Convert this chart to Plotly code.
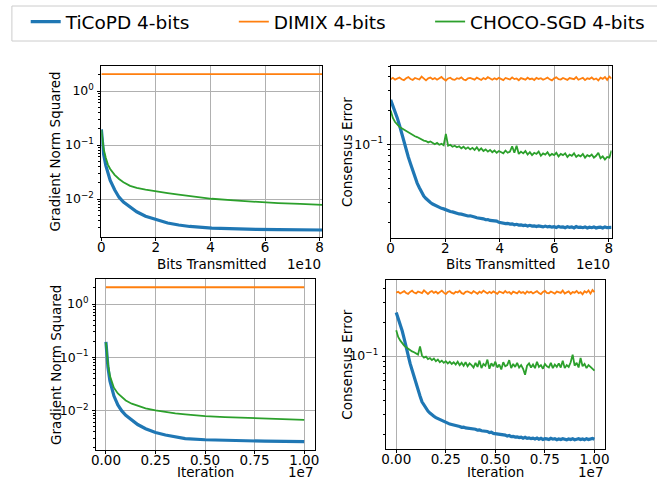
import plotly.graph_objects as go

# ---------------- data ----------------
SERIES = ["TiCoPD 4-bits", "DIMIX 4-bits", "CHOCO-SGD 4-bits"]
COLORS = ["#1f77b4", "#ff7f0e", "#2ca02c"]
BITS_PER_ITER = 8100

# gradient-norm runs (coarse logging grid, iterations)
iter_coarse = [0, 5e4, 1e5, 2e5, 3e5, 4e5, 6e5, 8e5, 1e6, 1.3e6, 1.6e6, 2e6, 2.5e6, 3e6,
               3.5e6, 4e6, 5e6, 6e6, 7e6, 8e6, 9e6, 1e7]

grad_ticopd_bits = [0.195, 0.10, 0.068, 0.042, 0.029, 0.022, 0.0148, 0.0108, 0.0088, 0.0070,
                    0.0058, 0.0048, 0.0041, 0.0036, 0.0033, 0.0031, 0.0029, 0.00278, 0.00273,
                    0.0027, 0.00268, 0.00267]
grad_dimix_bits = [2.06, 2.05, 2.07, 2.06, 2.05, 2.06, 2.07, 2.05, 2.06, 2.06, 2.05, 2.07,
                   2.06, 2.05, 2.06, 2.07, 2.06, 2.05, 2.06, 2.06, 2.05, 2.06]
grad_choco_bits = [0.19, 0.12, 0.085, 0.058, 0.043, 0.036, 0.028, 0.0235, 0.0205, 0.0175,
                   0.0161, 0.0149, 0.0137, 0.0129, 0.0121, 0.0114, 0.0101, 0.0094, 0.0088,
                   0.0084, 0.0081, 0.0078]

grad_ticopd_iter = [0.195, 0.10, 0.066, 0.036, 0.025, 0.019, 0.0128, 0.0099, 0.0082, 0.0066,
                    0.0055, 0.0046, 0.0039, 0.0035, 0.0032, 0.0030, 0.00285, 0.00277, 0.00272,
                    0.00268, 0.00265, 0.00262]
grad_dimix_iter = [2.06, 2.06, 2.05, 2.07, 2.06, 2.05, 2.06, 2.06, 2.07, 2.05, 2.06, 2.06,
                   2.05, 2.07, 2.06, 2.06, 2.05, 2.06, 2.07, 2.06, 2.05, 2.06]
grad_choco_iter = [0.19, 0.11, 0.075, 0.045, 0.033, 0.027, 0.021, 0.0178, 0.0155, 0.0135,
                   0.0123, 0.0111, 0.0101, 0.0094, 0.0089, 0.0085, 0.0079, 0.0076, 0.0074,
                   0.0073, 0.0071, 0.0067]

# consensus-error runs (fine logging grid, iterations)
iter_fine = list(range(0, 10_000_001, 100_000))

cons_ticopd_bits = [
    0.250, 0.222, 0.196, 0.172, 0.148, 0.124, 0.105, 0.089, 0.077, 0.067,
    0.058, 0.051, 0.045, 0.041, 0.037, 0.0345, 0.0328, 0.0312, 0.0302, 0.0293,
    0.0286, 0.0279, 0.0275, 0.0268, 0.0265, 0.0259, 0.0257, 0.0251, 0.0249, 0.0245,
    0.0243, 0.0239, 0.0238, 0.0234, 0.0233, 0.0229, 0.0230, 0.0225, 0.0224, 0.0221,
    0.0220, 0.0217, 0.0216, 0.0212, 0.0213, 0.0209, 0.0208, 0.0204, 0.0206, 0.0201,
    0.0199, 0.0200, 0.0196, 0.0197, 0.0194, 0.0195, 0.0191, 0.0193, 0.0190, 0.0191,
    0.0188, 0.0190, 0.0186, 0.0189, 0.0186, 0.0187, 0.0184, 0.0187, 0.0185, 0.0183,
    0.0186, 0.0183, 0.0185, 0.0182, 0.0184, 0.0181, 0.0185, 0.0182, 0.0183, 0.0180,
    0.0184, 0.0181, 0.0183, 0.0179, 0.0184, 0.0181, 0.0182, 0.0180, 0.0183, 0.0179,
    0.0182, 0.0180, 0.0183, 0.0179, 0.0181, 0.0182, 0.0179, 0.0183, 0.0180, 0.0182, 0.0181]
cons_dimix_bits = [
    0.380, 0.392, 0.378, 0.386, 0.395, 0.381, 0.374, 0.389, 0.398, 0.383,
    0.376, 0.391, 0.387, 0.379, 0.402, 0.384, 0.372, 0.388, 0.395, 0.381,
    0.390, 0.377, 0.385, 0.399, 0.382, 0.371, 0.387, 0.393, 0.380, 0.376,
    0.389, 0.384, 0.396, 0.379, 0.373, 0.388, 0.392, 0.383, 0.378, 0.394,
    0.386, 0.375, 0.390, 0.381, 0.397, 0.384, 0.377, 0.389, 0.380, 0.392,
    0.385, 0.374, 0.391, 0.383, 0.379, 0.396, 0.382, 0.387, 0.373, 0.390,
    0.384, 0.378, 0.393, 0.381, 0.386, 0.375, 0.392, 0.383, 0.389, 0.377,
    0.385, 0.394, 0.380, 0.372, 0.388, 0.396, 0.382, 0.379, 0.391, 0.384,
    0.376, 0.390, 0.386, 0.381, 0.398, 0.377, 0.385, 0.392, 0.374, 0.388,
    0.383, 0.395, 0.379, 0.387, 0.371, 0.393, 0.384, 0.399, 0.376, 0.402, 0.386]
cons_choco_bits = [
    0.200, 0.172, 0.158, 0.150, 0.143, 0.139, 0.135, 0.131, 0.127, 0.125,
    0.121, 0.118, 0.116, 0.113, 0.110, 0.108, 0.107, 0.104, 0.106, 0.102,
    0.100, 0.103, 0.099, 0.101, 0.098, 0.124, 0.097, 0.099, 0.095, 0.097,
    0.094, 0.096, 0.092, 0.095, 0.091, 0.094, 0.090, 0.093, 0.089, 0.094,
    0.088, 0.092, 0.087, 0.090, 0.086, 0.089, 0.085, 0.088, 0.084, 0.087,
    0.085, 0.083, 0.088, 0.084, 0.086, 0.096, 0.084, 0.097, 0.082, 0.086,
    0.083, 0.087, 0.081, 0.085, 0.080, 0.084, 0.082, 0.086, 0.079, 0.083,
    0.081, 0.085, 0.079, 0.082, 0.080, 0.084, 0.078, 0.082, 0.080, 0.083,
    0.077, 0.081, 0.079, 0.083, 0.077, 0.080, 0.078, 0.082, 0.076, 0.080,
    0.078, 0.081, 0.076, 0.079, 0.084, 0.075, 0.078, 0.073, 0.077, 0.076, 0.088]

cons_ticopd_iter = [
    0.245, 0.218, 0.192, 0.168, 0.143, 0.118, 0.100, 0.086, 0.075, 0.065,
    0.057, 0.050, 0.044, 0.039, 0.0365, 0.0340, 0.0323, 0.0310, 0.0298, 0.0290,
    0.0282, 0.0276, 0.0270, 0.0266, 0.0260, 0.0255, 0.0252, 0.0247, 0.0245, 0.0241,
    0.0240, 0.0236, 0.0235, 0.0231, 0.0232, 0.0228, 0.0227, 0.0224, 0.0225, 0.0221,
    0.0222, 0.0218, 0.0219, 0.0215, 0.0214, 0.0211, 0.0212, 0.0207, 0.0209, 0.0204,
    0.0203, 0.0201, 0.0199, 0.0200, 0.0196, 0.0197, 0.0193, 0.0195, 0.0191, 0.0192,
    0.0189, 0.0190, 0.0187, 0.0189, 0.0185, 0.0188, 0.0184, 0.0186, 0.0183, 0.0185,
    0.0182, 0.0185, 0.0181, 0.0184, 0.0180, 0.0183, 0.0182, 0.0180, 0.0184, 0.0181,
    0.0183, 0.0179, 0.0182, 0.0180, 0.0183, 0.0181, 0.0179, 0.0182, 0.0180, 0.0183,
    0.0179, 0.0181, 0.0183, 0.0180, 0.0182, 0.0179, 0.0183, 0.0180, 0.0181, 0.0184, 0.0181]
cons_dimix_iter = [
    0.368, 0.375, 0.362, 0.371, 0.380, 0.366, 0.359, 0.374, 0.383, 0.369,
    0.363, 0.377, 0.372, 0.365, 0.386, 0.370, 0.358, 0.373, 0.381, 0.367,
    0.376, 0.362, 0.371, 0.384, 0.368, 0.357, 0.373, 0.379, 0.366, 0.361,
    0.375, 0.369, 0.382, 0.364, 0.359, 0.374, 0.378, 0.368, 0.363, 0.380,
    0.371, 0.360, 0.376, 0.366, 0.383, 0.369, 0.362, 0.375, 0.365, 0.378,
    0.370, 0.359, 0.377, 0.368, 0.364, 0.381, 0.367, 0.373, 0.358, 0.376,
    0.369, 0.363, 0.379, 0.366, 0.372, 0.360, 0.378, 0.368, 0.374, 0.362,
    0.371, 0.380, 0.365, 0.357, 0.374, 0.382, 0.367, 0.364, 0.377, 0.369,
    0.361, 0.376, 0.372, 0.366, 0.384, 0.362, 0.370, 0.378, 0.359, 0.373,
    0.368, 0.381, 0.364, 0.372, 0.356, 0.379, 0.369, 0.385, 0.361, 0.388, 0.372]
cons_choco_iter = [
    0.170, 0.148, 0.138, 0.130, 0.124, 0.120, 0.116, 0.113, 0.110, 0.108,
    0.105, 0.103, 0.122, 0.101, 0.097, 0.099, 0.094, 0.096, 0.092, 0.095,
    0.090, 0.093, 0.088, 0.091, 0.087, 0.090, 0.086, 0.089, 0.085, 0.088,
    0.084, 0.089, 0.083, 0.087, 0.082, 0.088, 0.081, 0.086, 0.083, 0.079,
    0.087, 0.080, 0.091, 0.078, 0.085, 0.082, 0.093, 0.077, 0.086, 0.081,
    0.089, 0.079, 0.084, 0.076, 0.088, 0.081, 0.083, 0.092, 0.078, 0.085,
    0.080, 0.087, 0.079, 0.083, 0.077, 0.068, 0.082, 0.086, 0.079, 0.084,
    0.078, 0.089, 0.080, 0.083, 0.077, 0.085, 0.081, 0.079, 0.087, 0.078,
    0.084, 0.080, 0.086, 0.079, 0.091, 0.078, 0.083, 0.080, 0.088, 0.103,
    0.082, 0.087, 0.079, 0.096, 0.081, 0.085, 0.078, 0.083, 0.080, 0.077, 0.074]

x_ticks_bits = [0, 2e10, 4e10, 6e10, 8e10]
x_ticktext_bits = ["0", "2", "4", "6", "8"]
x_ticks_iter = [0, 2.5e6, 5e6, 7.5e6, 1e7]
x_ticktext_iter = ["0.00", "0.25", "0.50", "0.75", "1.00"]
y_ticks_grad = [1, 0.1, 0.01]
y_ticktext_grad = ["10<sup>0</sup>", "10<sup>\u22121</sup>", "10<sup>\u22122</sup>"]
y_ticks_cons = [0.1]
y_ticktext_cons = ["10<sup>\u22121</sup>"]

# ---------------- figure ----------------
W, H = 657, 480
FONT = "DejaVu Sans"


def fx(p):
    return p / W


def fy(p):
    return 1 - p / H


bits_coarse = [i * BITS_PER_ITER for i in iter_coarse]
bits_fine = [i * BITS_PER_ITER for i in iter_fine]

panels = [
    (bits_coarse, [grad_ticopd_bits, grad_dimix_bits, grad_choco_bits], ""),
    (bits_fine, [cons_ticopd_bits, cons_dimix_bits, cons_choco_bits], "2"),
    (iter_coarse, [grad_ticopd_iter, grad_dimix_iter, grad_choco_iter], "3"),
    (iter_fine, [cons_ticopd_iter, cons_dimix_iter, cons_choco_iter], "4"),
]
widths = [3.2, 1.8, 1.8]
legend_ids = ["legend", "legend2", "legend3"]

fig = go.Figure()
for pi, (xs, ys_list, suf) in enumerate(panels):
    for si, ys in enumerate(ys_list):
        fig.add_trace(go.Scatter(
            x=xs, y=ys, mode="lines", name=SERIES[si],
            line=dict(color=COLORS[si], width=widths[si]),
            xaxis="x" + suf, yaxis="y" + suf,
            showlegend=(pi == 0), legend=legend_ids[si],
        ))

minor_vals = [m * 10 ** e for e in range(-3, 1) for m in range(2, 10)]

common = dict(showline=True, linecolor="black", linewidth=1, mirror=True,
              ticks="outside", ticklen=3, tickwidth=1, tickcolor="black",
              showgrid=True, gridcolor="#b0b0b0", gridwidth=1, zeroline=False)

boxes = {
    "": (97.7, 321.7, 66, 236.7),
    "2": (391, 615, 66, 237.7),
    "3": (92.3, 314, 279.3, 450),
    "4": (386, 608.3, 280, 449),
}
xranges = {"": [0, 8.1e10], "2": [0, 8.1e10], "3": [-0.05e7, 1.053e7], "4": [-0.053e7, 1.053e7]}
yranges = {"": [-2.698, 0.463], "2": [-1.834, -0.301], "3": [-2.737, 0.463], "4": [-1.830, -0.321]}

layout = {}
for suf, (l, r, t, b) in boxes.items():
    is_bits = suf in ("", "2")
    is_grad = suf in ("", "3")
    layout["xaxis" + suf] = dict(
        common, domain=[fx(l), fx(r)], range=xranges[suf], anchor="y" + suf,
        tickmode="array", ticklabelstandoff=-5,
        tickfont=dict(size=13.5, color="black", family=FONT),
        tickvals=x_ticks_bits if is_bits else x_ticks_iter,
        ticktext=x_ticktext_bits if is_bits else x_ticktext_iter,
    )
    layout["yaxis" + suf] = dict(
        common, type="log", domain=[fy(b), fy(t)], range=yranges[suf], anchor="x" + suf,
        tickmode="array", ticklabelstandoff=1,
        tickfont=dict(size=12.5, color="black", family=FONT),
        tickvals=y_ticks_grad if is_grad else y_ticks_cons,
        ticktext=y_ticktext_grad if is_grad else y_ticktext_cons,
        minor=dict(tickmode="array", tickvals=minor_vals, ticks="outside", ticklen=2,
                   tickwidth=1, tickcolor="black", showgrid=False),
    )

annotations = []


def ann(text, x, y, angle=0, xanchor="center", size=13.5):
    annotations.append(dict(text=text, x=fx(x), y=fy(y), xref="paper", yref="paper",
                            showarrow=False, textangle=angle, xanchor=xanchor,
                            yanchor="middle", font=dict(size=size, color="black", family=FONT)))


# axis titles
ann("Bits Transmitted", 209.7, 263.5)
ann("Bits Transmitted", 503, 263.5)
ann("Iteration", 203.2, 471.5)
ann("Iteration", 497.2, 471.5)
ann("Gradient Norm Squared", 51, 151.3, angle=-90)
ann("Consensus Error", 347, 151.8, angle=-90)
ann("Gradient Norm Squared", 51, 364.6, angle=-90)
ann("Consensus Error", 346, 364.5, angle=-90)
# offset texts
ann("1e10", 322, 263.5, xanchor="right")
ann("1e10", 615, 263.5, xanchor="right")
ann("1e7", 314, 471.5, xanchor="right")
ann("1e7", 608.3, 471.5, xanchor="right")

# legend frame (matplotlib-style box, wider than the page)
shapes = [dict(type="rect", xref="paper", yref="paper",
               x0=fx(7), x1=fx(668), y0=fy(41), y1=fy(6),
               line=dict(color="#cccccc", width=1), fillcolor="white", layer="below")]

leg_common = dict(orientation="h", xanchor="left", yanchor="top", y=fy(3),
                  font=dict(size=18.5, family=FONT, color="black"),
                  borderwidth=0, bgcolor="rgba(0,0,0,0)", itemwidth=30)
legends = {
    "legend": dict(leg_common, x=fx(21)),
    "legend2": dict(leg_common, x=fx(232)),
    "legend3": dict(leg_common, x=fx(431)),
}

fig.update_layout(
    width=W, height=H,
    margin=dict(l=0, r=0, t=0, b=0),
    paper_bgcolor="white", plot_bgcolor="white",
    font=dict(family=FONT, color="black"),
    annotations=annotations, shapes=shapes,
    **legends,
    **layout,
)

fig.write_html("out.html", config={"displayModeBar": False},
               post_script="document.body.style.margin='0';document.body.style.overflow='hidden';")
